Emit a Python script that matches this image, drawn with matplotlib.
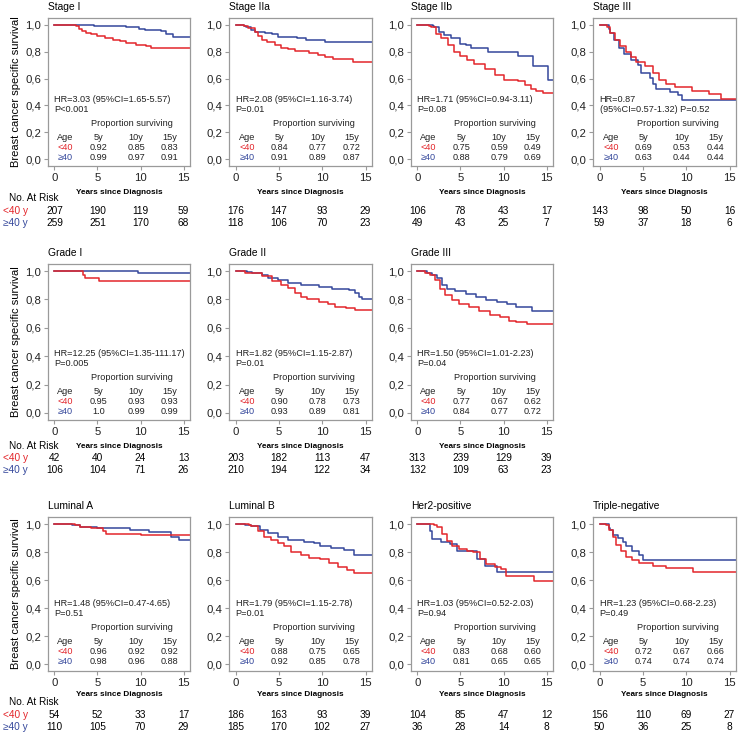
import matplotlib
matplotlib.use("Agg")
import matplotlib.pyplot as plt
import matplotlib.transforms as mtransforms

plt.rcParams['font.family'] = ['Liberation Sans', 'DejaVu Sans']

# Kaplan-Meier Kurven (Zeit in Jahren, Anteil)
stage1_lt40_t = [0, 2.5, 2.8, 3.2, 3.7, 4.2, 5.0, 5.9, 6.8, 7.6, 8.3, 9.5, 10.6, 11.2, 15.8]
stage1_lt40_s = [1, 0.99, 0.97, 0.95, 0.94, 0.93, 0.915, 0.90, 0.89, 0.88, 0.865, 0.85, 0.84, 0.83, 0.83]
stage1_ge40_t = [0, 4.6, 8.3, 9.8, 10.5, 12.4, 13.0, 13.8, 15.8]
stage1_ge40_s = [1, 0.99, 0.98, 0.97, 0.96, 0.95, 0.93, 0.91, 0.91]

stage2a_lt40_t = [0, 1.0, 1.4, 2.2, 2.6, 3.0, 3.6, 4.6, 5.3, 6.1, 6.9, 8.5, 9.5, 10.3, 11.3, 13.6, 15.8]
stage2a_lt40_s = [1, 0.99, 0.975, 0.945, 0.915, 0.89, 0.875, 0.85, 0.83, 0.82, 0.805, 0.79, 0.775, 0.76, 0.745, 0.72, 0.72]
stage2a_ge40_t = [0, 1.0, 1.2, 1.8, 2.2, 3.4, 4.2, 4.9, 7.1, 8.1, 10.3, 15.8]
stage2a_ge40_s = [1, 0.99, 0.98, 0.96, 0.945, 0.94, 0.93, 0.91, 0.90, 0.885, 0.873, 0.873]

stage2b_lt40_t = [0, 1.3, 1.6, 2.1, 2.7, 3.5, 4.3, 4.9, 5.8, 6.6, 7.8, 9.0, 10.0, 11.7, 12.5, 13.2, 13.8, 14.6, 15.8]
stage2b_lt40_s = [1, 0.99, 0.98, 0.93, 0.90, 0.85, 0.80, 0.765, 0.74, 0.705, 0.67, 0.63, 0.59, 0.585, 0.55, 0.525, 0.505, 0.49, 0.49]
stage2b_ge40_t = [0, 1.75, 1.95, 2.5, 3.1, 3.9, 4.9, 5.6, 6.2, 8.2, 11.7, 13.4, 15.2, 15.8]
stage2b_ge40_s = [1, 0.99, 0.98, 0.945, 0.92, 0.90, 0.86, 0.85, 0.825, 0.795, 0.765, 0.69, 0.59, 0.59]

stage3_lt40_t = [0, 0.9, 1.25, 1.8, 2.4, 3.0, 3.6, 4.2, 5.2, 6.2, 6.9, 7.7, 8.7, 10.7, 12.6, 14.0, 15.8]
stage3_lt40_s = [1, 0.98, 0.94, 0.89, 0.845, 0.80, 0.76, 0.725, 0.69, 0.64, 0.59, 0.56, 0.535, 0.51, 0.485, 0.445, 0.445]
stage3_ge40_t = [0, 1.05, 1.25, 1.65, 2.2, 2.8, 3.6, 4.4, 4.8, 5.8, 6.2, 6.5, 8.1, 9.1, 9.5, 15.8]
stage3_ge40_s = [1, 0.97, 0.94, 0.89, 0.83, 0.785, 0.74, 0.70, 0.64, 0.605, 0.56, 0.52, 0.50, 0.475, 0.44, 0.44]

grade1_lt40_t = [0, 3.3, 3.6, 5.2, 15.8]
grade1_lt40_s = [1, 0.97, 0.95, 0.93, 0.93]
grade1_ge40_t = [0, 9.7, 15.8]
grade1_ge40_s = [1, 0.99, 0.99]

grade2_lt40_t = [0, 1.1, 3.0, 4.2, 5.3, 6.1, 6.9, 7.5, 8.2, 9.6, 10.7, 11.5, 12.7, 13.8, 15.8]
grade2_lt40_s = [1, 0.99, 0.965, 0.93, 0.905, 0.88, 0.845, 0.815, 0.80, 0.785, 0.77, 0.75, 0.74, 0.728, 0.728]
grade2_ge40_t = [0, 1.3, 1.9, 3.0, 3.8, 4.9, 6.1, 7.6, 9.6, 11.1, 13.1, 13.8, 14.2, 14.6, 15.8]
grade2_ge40_s = [1, 0.995, 0.99, 0.97, 0.95, 0.935, 0.915, 0.905, 0.89, 0.875, 0.87, 0.845, 0.82, 0.805, 0.805]

grade3_lt40_t = [0, 0.9, 1.5, 2.05, 2.65, 3.25, 4.0, 4.8, 6.0, 7.2, 8.4, 9.6, 10.6, 11.5, 12.7, 15.8]
grade3_lt40_s = [1, 0.99, 0.97, 0.936, 0.876, 0.83, 0.793, 0.77, 0.745, 0.72, 0.69, 0.674, 0.65, 0.638, 0.624, 0.624]
grade3_ge40_t = [0, 1.07, 1.7, 2.25, 2.85, 3.4, 4.4, 5.6, 6.8, 8.0, 9.2, 10.4, 11.5, 13.3, 15.8]
grade3_ge40_s = [1, 0.99, 0.97, 0.948, 0.90, 0.876, 0.857, 0.84, 0.817, 0.793, 0.78, 0.77, 0.745, 0.72, 0.72]

luma_lt40_t = [0, 2.4, 3.0, 4.2, 5.6, 6.0, 10.0, 15.8]
luma_lt40_s = [1, 0.995, 0.98, 0.97, 0.95, 0.93, 0.918, 0.918]
luma_ge40_t = [0, 2.0, 3.0, 5.0, 8.8, 11.0, 13.5, 14.5, 15.8]
luma_ge40_s = [1, 0.99, 0.98, 0.97, 0.96, 0.94, 0.91, 0.888, 0.888]

lumb_lt40_t = [0, 1.5, 1.8, 2.6, 3.3, 4.1, 4.9, 5.6, 6.4, 7.5, 8.5, 9.8, 10.8, 11.8, 12.9, 13.7, 15.8]
lumb_lt40_s = [1, 0.995, 0.983, 0.947, 0.91, 0.887, 0.863, 0.84, 0.80, 0.78, 0.76, 0.748, 0.72, 0.695, 0.67, 0.647, 0.647]
lumb_ge40_t = [0, 1.1, 1.8, 2.8, 3.7, 4.9, 6.0, 7.9, 9.1, 9.8, 11.0, 12.5, 13.7, 15.8]
lumb_ge40_s = [1, 0.995, 0.983, 0.96, 0.935, 0.91, 0.887, 0.875, 0.863, 0.84, 0.827, 0.815, 0.78, 0.78]

her2_lt40_t = [0, 1.9, 2.3, 2.9, 3.4, 4.0, 4.8, 5.7, 6.5, 7.3, 8.0, 9.0, 9.7, 10.3, 13.5, 15.8]
her2_lt40_s = [1, 0.99, 0.976, 0.93, 0.88, 0.845, 0.82, 0.81, 0.80, 0.75, 0.715, 0.695, 0.68, 0.63, 0.595, 0.595]
her2_ge40_t = [0, 1.4, 1.7, 2.7, 3.8, 4.6, 6.9, 7.8, 9.2, 15.8]
her2_ge40_s = [1, 0.95, 0.89, 0.87, 0.857, 0.81, 0.75, 0.70, 0.655, 0.655]

tneg_lt40_t = [0, 0.8, 1.15, 1.5, 1.9, 2.5, 3.1, 3.8, 4.6, 6.2, 7.7, 10.8, 15.8]
tneg_lt40_s = [1, 0.99, 0.96, 0.91, 0.85, 0.81, 0.765, 0.74, 0.72, 0.70, 0.685, 0.66, 0.66]
tneg_ge40_t = [0, 1.1, 1.2, 1.5, 2.1, 2.7, 3.1, 3.8, 4.6, 5.0, 15.8]
tneg_ge40_s = [1, 0.97, 0.96, 0.925, 0.90, 0.875, 0.84, 0.81, 0.78, 0.74, 0.74]

# Texte und Tabellen
titles = ["Stage I", "Stage IIa", "Stage IIb", "Stage III",
          "Grade I", "Grade II", "Grade III",
          "Luminal A", "Luminal B", "Her2-positive", "Triple-negative"]
hr_texts = ["HR=3.03 (95%CI=1.65-5.57)", "HR=2.08 (95%CI=1.16-3.74)",
            "HR=1.71 (95%CI=0.94-3.11)", "HR=0.87",
            "HR=12.25 (95%CI=1.35-111.17)", "HR=1.82 (95%CI=1.15-2.87)",
            "HR=1.50 (95%CI=1.01-2.23)",
            "HR=1.48 (95%CI=0.47-4.65)", "HR=1.79 (95%CI=1.15-2.78)",
            "HR=1.03 (95%CI=0.52-2.03)", "HR=1.23 (95%CI=0.68-2.23)"]
p_texts = ["P<0.001", "P=0.01", "P=0.08", "(95%CI=0.57-1.32) P=0.52",
           "P=0.005", "P=0.01", "P=0.04",
           "P=0.51", "P=0.01", "P=0.94", "P=0.49"]
prop_lt40 = [["0.92", "0.85", "0.83"], ["0.84", "0.77", "0.72"], ["0.75", "0.59", "0.49"], ["0.69", "0.53", "0.44"],
             ["0.95", "0.93", "0.93"], ["0.90", "0.78", "0.73"], ["0.77", "0.67", "0.62"],
             ["0.96", "0.92", "0.92"], ["0.88", "0.75", "0.65"], ["0.83", "0.68", "0.60"], ["0.72", "0.67", "0.66"]]
prop_ge40 = [["0.99", "0.97", "0.91"], ["0.91", "0.89", "0.87"], ["0.88", "0.79", "0.69"], ["0.63", "0.44", "0.44"],
             ["1.0", "0.99", "0.99"], ["0.93", "0.89", "0.81"], ["0.84", "0.77", "0.72"],
             ["0.98", "0.96", "0.88"], ["0.92", "0.85", "0.78"], ["0.81", "0.65", "0.65"], ["0.74", "0.74", "0.74"]]
risk_lt40 = [[207, 190, 119, 59], [176, 147, 93, 29], [106, 78, 43, 17], [143, 98, 50, 16],
             [42, 40, 24, 13], [203, 182, 113, 47], [313, 239, 129, 39],
             [54, 52, 33, 17], [186, 163, 93, 39], [104, 85, 47, 12], [156, 110, 69, 27]]
risk_ge40 = [[259, 251, 170, 68], [118, 106, 70, 23], [49, 43, 25, 7], [59, 37, 18, 6],
             [106, 104, 71, 26], [210, 194, 122, 34], [132, 109, 63, 23],
             [110, 105, 70, 29], [185, 170, 102, 27], [36, 28, 14, 8], [50, 36, 25, 8]]
risk_years = [0, 5, 10, 15]

curves = [
    (stage1_lt40_t, stage1_lt40_s, stage1_ge40_t, stage1_ge40_s),
    (stage2a_lt40_t, stage2a_lt40_s, stage2a_ge40_t, stage2a_ge40_s),
    (stage2b_lt40_t, stage2b_lt40_s, stage2b_ge40_t, stage2b_ge40_s),
    (stage3_lt40_t, stage3_lt40_s, stage3_ge40_t, stage3_ge40_s),
    (grade1_lt40_t, grade1_lt40_s, grade1_ge40_t, grade1_ge40_s),
    (grade2_lt40_t, grade2_lt40_s, grade2_ge40_t, grade2_ge40_s),
    (grade3_lt40_t, grade3_lt40_s, grade3_ge40_t, grade3_ge40_s),
    (luma_lt40_t, luma_lt40_s, luma_ge40_t, luma_ge40_s),
    (lumb_lt40_t, lumb_lt40_s, lumb_ge40_t, lumb_ge40_s),
    (her2_lt40_t, her2_lt40_s, her2_ge40_t, her2_ge40_s),
    (tneg_lt40_t, tneg_lt40_s, tneg_ge40_t, tneg_ge40_s),
]

RED = '#e3262b'
BLUE = '#34479b'
FRAME = '#9a9a9a'
W, H = 738, 732

fig = plt.figure(figsize=(W / 100, H / 100), dpi=100)

# Layout in Pixeln: Boxen je Zeile / Spalte
col_lr = [(48, 190), (229, 372), (411, 553), (593, 736)]
row_tb = [(18, 166), (264, 420), (517, 671)]
# y-Positionen (Pixel): Achsentitel, "No. At Risk", <40, >=40
row_text = [(193, 198, 211, 223), (446, 446, 458, 470), (694, 702, 715, 727)]
panel_pos = [(0, 0), (0, 1), (0, 2), (0, 3),
             (1, 0), (1, 1), (1, 2),
             (2, 0), (2, 1), (2, 2), (2, 3)]


def fy(ypx):
    return 1 - ypx / H


for i, (r, c) in enumerate(panel_pos):
    l, rr = col_lr[c]
    t, b = row_tb[r]
    ax = fig.add_axes([l / W, 1 - b / H, (rr - l) / W, (b - t) / H])
    lt_t, lt_s, ge_t, ge_s = curves[i]
    ax.step(ge_t, ge_s, where='post', color=BLUE, lw=1.1)
    ax.step(lt_t, lt_s, where='post', color=RED, lw=1.1)
    ax.set_xlim(-0.75, 15.75)
    ax.set_ylim(-0.05, 1.05)
    ax.set_xticks([0, 5, 10, 15])
    ax.set_yticks([0, 0.2, 0.4, 0.6, 0.8, 1.0])
    ax.set_yticklabels(["0,0", "0,2", "0,4", "0,6", "0,8", "1,0"])
    for sp in ax.spines.values():
        sp.set_color(FRAME)
        sp.set_linewidth(0.9)
    ax.tick_params(axis='both', length=3, width=0.8, color=FRAME,
                   labelsize=8.2, labelcolor='#222222', pad=2)

    # Titel
    fig.text(l / W, fy(t - 11), titles[i], fontsize=7.4, ha='left', va='center')

    # Text in der Box
    def put(x, off, s, color='#222222', ha='center', size=6.6):
        ax.annotate(s, xy=(x, 0), xycoords=('data', 'axes fraction'),
                    xytext=(0, off * 0.72), textcoords='offset points',
                    ha=ha, va='center', fontsize=size, color=color)

    put(0.0, 67, hr_texts[i], ha='left')
    put(0.0, 57, p_texts[i], ha='left')
    put(9.0, 43, "Proportion surviving")
    cols_x = [1.3, 5.1, 9.5, 13.4]
    for x, s in zip(cols_x, ["Age", "5y", "10y", "15y"]):
        put(x, 29, s)
    put(cols_x[0], 19, "<40", color=RED)
    put(cols_x[0], 9, "\u226540", color=BLUE)
    for x, s in zip(cols_x[1:], prop_lt40[i]):
        put(x, 19, s)
    for x, s in zip(cols_x[1:], prop_ge40[i]):
        put(x, 9, s)

    # Achsentitel und Risikotabelle
    y_lab, y_nar, y_lt, y_ge = row_text[r]
    fig.text((l + rr) / 2 / W, fy(y_lab), "Years since Diagnosis", fontsize=5.9,
             fontweight='bold', ha='center', va='center')
    tr = mtransforms.blended_transform_factory(ax.transData, fig.transFigure)
    for x, n in zip(risk_years, risk_lt40[i]):
        ax.text(x, fy(y_lt), str(n), transform=tr, ha='center', va='center',
                fontsize=7.3, clip_on=False)
    for x, n in zip(risk_years, risk_ge40[i]):
        ax.text(x, fy(y_ge), str(n), transform=tr, ha='center', va='center',
                fontsize=7.3, clip_on=False)

    if c == 0:
        ax.set_ylabel("Breast cancer specific survival", fontsize=8, labelpad=3)
        fig.text(9 / W, fy(y_nar), "No. At Risk", fontsize=7.2, ha='left', va='center')
        fig.text(3 / W, fy(y_lt), "<40 y", fontsize=7.3, color=RED, ha='left', va='center')
        fig.text(3 / W, fy(y_ge), "\u226540 y", fontsize=7.3, color=BLUE, ha='left', va='center')

fig.savefig("out.png", dpi=100)
